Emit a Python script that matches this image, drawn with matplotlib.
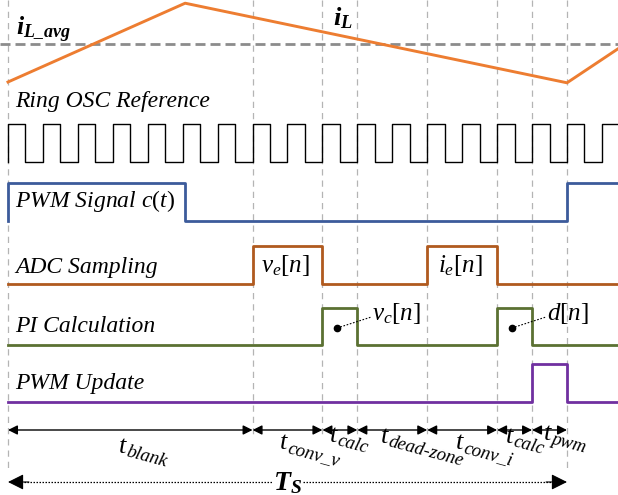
"""
Timing diagram of one digital control cycle: inductor current, ring oscillator
clock, PWM signal, ADC sampling, PI calculation and PWM update.
"""
import matplotlib.pyplot as plt

plt.rcParams['font.family'] = ['Liberation Serif', 'DejaVu Serif']
plt.rcParams['mathtext.fontset'] = 'custom'
plt.rcParams['mathtext.rm'] = 'Liberation Serif'
plt.rcParams['mathtext.it'] = 'Liberation Serif:italic'
plt.rcParams['mathtext.bf'] = 'Liberation Serif:bold:italic'

# time is counted in ring oscillator clock periods
seg_names = ['blank', 'conv_v', 'calc', 'dead-zone', 'conv_i', 'calc', 'pwm']
seg_periods = [7, 2, 1, 2, 2, 1, 1]
n_clock = 18

il_times = [0, 5.07, 16, 17.46]
il_values = [-0.95, 1.02, -0.97, -0.12]   # relative to i_L_avg

pwm_high = [(0, 5.07), (16, 17.46)]
adc_high = [(7, 9), (12, 14)]
adc_labels = [r'$v_e[n]$', r'$i_e[n]$']
pi_high = [(9, 10), (14, 15)]
pi_labels = [r'$v_c[n]$', r'$d[n]$']
upd_high = [(15, 16)]

T_END = 17.46
X0 = -0.229

# where each t-label sits (offset from segment start, in periods; y in px)
lab_dx = [3.15, 0.77, 0.2, 0.65, 0.8, 0.22, 0.32]
lab_y = [447, 443, 436, 437, 443, 437, 434]


def pulses(high, t_end):
    xs, ys = [0], [0]
    for a, b in high:
        if a > 0:
            xs += [a, a]
            ys += [0, 1]
        else:
            ys[-1] = 0
            xs += [a]
            ys += [1]
        if b < t_end:
            xs += [b, b]
            ys += [1, 0]
    xs.append(t_end)
    ys.append(ys[-1])
    return xs, ys


def level(ys, hi, lo):
    return [lo + (hi - lo) * v for v in ys]


def main():
    fig = plt.figure(figsize=(6.18, 4.95), dpi=100)
    ax = fig.add_axes([0, 0, 1, 1])
    ax.set_xlim(X0, T_END)
    ax.set_ylim(495, 0)
    ax.axis('off')

    bounds = [0]
    for p in seg_periods:
        bounds.append(bounds[-1] + p)
    Ts = bounds[-1]

    # guide lines
    for b in bounds:
        bottom = 472 if b in (0, Ts) else 437
        ax.plot([b, b], [0, bottom], color='#b4b4b4', lw=0.9,
                dashes=(5, 4), zorder=1)

    # inductor current
    ax.plot([X0, T_END], [44, 44], color='#8c8c8c', lw=2.0, dashes=(3.6, 1.8), zorder=2)
    ax.plot(il_times, [44 - 40 * v for v in il_values], color='#ed7d31', lw=2.1, zorder=3)
    ax.text(0.22, 30, r'$\mathbf{i}_{\mathbf{L\_avg}}$', fontsize=18.5, va='center')
    ax.text(9.3, 18, r'$\mathbf{i}_{\mathbf{L}}$', fontsize=19, va='center')

    # ring oscillator clock
    cx, cy = [0], [162]
    for k in range(n_clock):
        for t, lv in ((k, 124), (k + 0.5, 162)):
            if t <= T_END:
                cx += [t, t]
                cy += [cy[-1], lv]
    cx.append(T_END)
    cy.append(cy[-1])
    ax.plot(cx, cy, color='black', lw=1.0, zorder=3)
    ax.text(0.2, 101, 'Ring OSC Reference', fontsize=17, style='italic', va='center')

    # PWM signal
    xs, ys = pulses(pwm_high, T_END)
    ax.plot(xs, level(ys, 183, 221), color='#3c5b9b', lw=2.0, zorder=3)
    ax.text(0.2, 201, r'PWM Signal $c(t)$', fontsize=17, style='italic', va='center')

    # ADC sampling
    xs, ys = pulses(adc_high, T_END)
    ax.plot(xs, level(ys, 246, 284), color='#b05a1e', lw=2.0, zorder=3)
    ax.text(0.2, 268, 'ADC Sampling', fontsize=17, style='italic', va='center')
    for (a, b), lab in zip(adc_high, adc_labels):
        ax.text((a + b) / 2 - 0.05, 265, lab, fontsize=18, ha='center', va='center')

    # PI calculation
    xs, ys = pulses(pi_high, T_END)
    ax.plot(xs, level(ys, 308, 345), color='#5b7132', lw=2.0, zorder=3)
    ax.text(0.2, 327, 'PI Calculation', fontsize=17, style='italic', va='center')
    for (a, b), lab in zip(pi_high, pi_labels):
        ax.plot([a + 0.42, b + 0.4], [328, 317], color='black', lw=0.8,
                ls=(0, (1.5, 1.5)), zorder=4)
        ax.plot([a + 0.42], [328], 'o', color='black', ms=4.5, zorder=4)
        ax.text(b + 0.43, 314, lab, fontsize=18, ha='left', va='center')

    # PWM update
    xs, ys = pulses(upd_high, T_END)
    ax.plot(xs, level(ys, 364, 402), color='#7030a0', lw=2.0, zorder=3)
    ax.text(0.2, 383, 'PWM Update', fontsize=17, style='italic', va='center')

    # segment arrows and labels
    for i, name in enumerate(seg_names):
        a, b = bounds[i], bounds[i + 1]
        ax.annotate('', xy=(b, 430), xytext=(a, 430),
                    arrowprops=dict(arrowstyle='<|-|>', color='black', lw=1.0,
                                    mutation_scale=14, shrinkA=0, shrinkB=0))
        tx = a + lab_dx[i]
        ax.text(tx, lab_y[i], r'$t$', fontsize=19, ha='left', va='center')
        ax.text(tx + 0.24, lab_y[i] + 5, name, fontsize=13.5, style='italic',
                ha='left', va='center', rotation=-15, rotation_mode='anchor')

    # switching period
    ax.plot([0.3, Ts - 0.3], [482, 482], color='black', lw=0.9, ls=(0, (1.2, 1.2)))
    for tip, tail in ((0, 0.6), (Ts, Ts - 0.6)):
        ax.annotate('', xy=(tip, 482), xytext=(tail, 482),
                    arrowprops=dict(arrowstyle='-|>', color='black', lw=0.8,
                                    mutation_scale=24, shrinkA=0, shrinkB=0))
    ax.text(Ts / 2, 483, r'$\mathbf{T}_{\mathbf{S}}$', fontsize=20, ha='center',
            va='center', bbox=dict(facecolor='white', edgecolor='none', pad=0.5))

    plt.savefig('out.png', dpi=100)
    plt.close()


if __name__ == "__main__":
    main()
